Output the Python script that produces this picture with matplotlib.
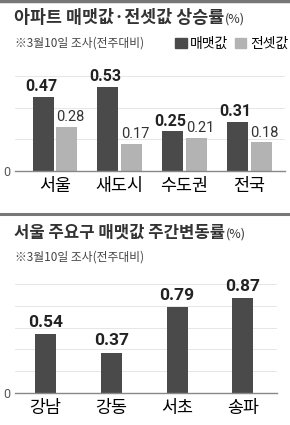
import matplotlib.pyplot as plt
import numpy as np
from matplotlib.patches import Patch

plt.rcParams['font.family'] = ['Noto Sans CJK KR', 'DejaVu Sans']

# top chart data
regions = ['서울', '새도시', '수도권', '전국']
sale = [0.47, 0.53, 0.25, 0.31]
jeonse = [0.28, 0.17, 0.21, 0.18]

# bottom chart data
districts = ['강남', '강동', '서초', '송파']
district_sale = [0.54, 0.37, 0.79, 0.87]

DARK = '#4a4a4a'
LIGHT = '#b3b3b3'
NUM_FONT = ['Roboto', 'Liberation Sans']
W, H = 290, 425

fig = plt.figure(figsize=(2.9, 4.25), dpi=100)


def px_axes(left, top, right, bottom):
    return fig.add_axes([left / W, 1 - bottom / H, (right - left) / W, (bottom - top) / H])


def style(ax, grid):
    for s in ['top', 'right', 'left']:
        ax.spines[s].set_visible(False)
    ax.spines['bottom'].set_color('#888888')
    ax.spines['bottom'].set_linewidth(1.0)
    ax.set_yticks([0])
    ax.set_yticklabels(['0'], fontsize=9, color='#555555', family=NUM_FONT)
    ax.tick_params(axis='y', length=0, pad=3)
    ax.tick_params(axis='x', length=0, pad=4, labelsize=12.5)
    for g in grid:
        ax.axhline(g, color='#e6e6e6', lw=0.7, zorder=0)


def title(text, y, size):
    t = fig.text(14 / W, 1 - y / H, text, fontsize=size, fontweight='bold',
                 va='center', ha='left', color='#333333')
    bb = t.get_window_extent(renderer=fig.canvas.get_renderer())
    fig.text((bb.x1 + 1) / W, 1 - (y + 1) / H, '(%)', fontsize=9, va='center', ha='left', color='#333333')


# separator bars
fig.add_artist(plt.Line2D([0, 1], [1 - 1 / H, 1 - 1 / H], color='#777777', lw=2.5))
fig.add_artist(plt.Line2D([0, 1], [1 - 213.5 / H, 1 - 213.5 / H], color='#777777', lw=2.2))

# ---- top panel ----
title('아파트 매맷값·전셋값 상승률', 18, 12.5)
fig.text(15 / W, 1 - 43 / H, '※3월10일 조사(전주대비)', fontsize=8.5, va='center', ha='left', color='#444444')

ax1 = px_axes(15, 171 - 0.65 * 158.5, 285, 171)
x = np.arange(len(regions))
bw = 0.325
off = 0.185
ax1.bar(x - off, sale, bw, color=DARK, zorder=2)
ax1.bar(x + off, jeonse, bw, color=LIGHT, zorder=2)
for xi, v in zip(x, sale):
    ax1.annotate(f'{v:.2f}', (xi - off, v), xytext=(-1.5, 2), textcoords='offset points',
                 ha='center', va='bottom', fontsize=11.5, fontweight='bold',
                 family=NUM_FONT, color='#222222')
for xi, v in zip(x, jeonse):
    ax1.annotate(f'{v:.2f}', (xi + off, v), xytext=(2.5, 2), textcoords='offset points',
                 ha='center', va='bottom', fontsize=10.5, family=NUM_FONT, color='#333333')
ax1.set_xlim(-0.618, 3.555)
ax1.set_ylim(0, 0.65)
ax1.set_xticks(x)
ax1.set_xticklabels(regions)
style(ax1, [0.2, 0.4, 0.6])
leg = fig.legend(handles=[Patch(color=DARK, label='매맷값'), Patch(color=LIGHT, label='전셋값')],
                 loc='center right', bbox_to_anchor=(288 / W, 1 - 44 / H), ncol=2, frameon=False,
                 fontsize=10, handlelength=0.8, handleheight=0.8, handletextpad=0.25,
                 columnspacing=0.5, borderpad=0, borderaxespad=0)

# ---- bottom panel ----
title('서울 주요구 매맷값 주간변동률', 233, 12)
fig.text(15 / W, 1 - 257 / H, '※3월10일 조사(전주대비)', fontsize=8.5, va='center', ha='left', color='#444444')

ax2 = px_axes(15, 393 - 1.05 * 109, 277, 393)
x2 = np.arange(len(districts))
ax2.bar(x2, district_sale, 0.32, color=DARK, zorder=2)
for xi, v in zip(x2, district_sale):
    ax2.text(xi, v + 0.04, f'{v:.2f}', ha='center', va='bottom', fontsize=12.5,
             fontweight='bold', family=NUM_FONT, color='#222222')
ax2.set_xlim(-0.464, 3.52)
ax2.set_ylim(0, 1.05)
ax2.set_xticks(x2)
ax2.set_xticklabels(districts)
style(ax2, [0.2, 0.4, 0.6, 0.8, 1.0])

fig.savefig('out.png', dpi=100)
